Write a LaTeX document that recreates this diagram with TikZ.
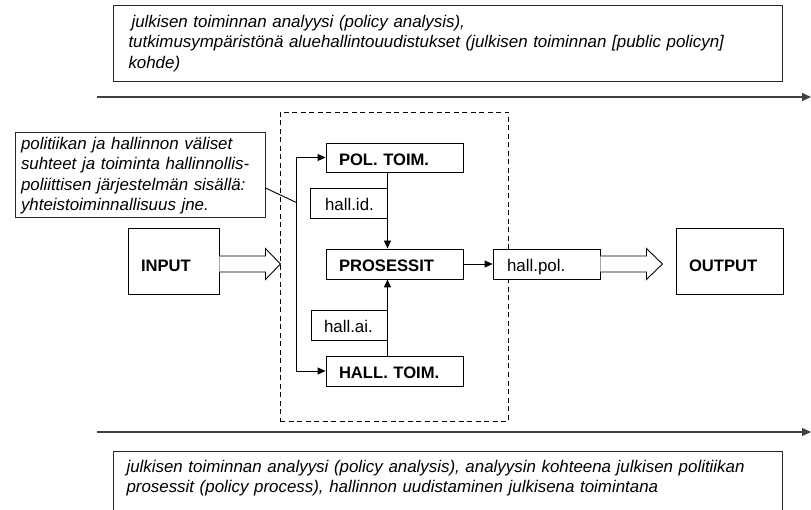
\documentclass[tikz,border=0pt]{standalone}
\usepackage{fontspec}
\setmainfont{Liberation Sans}
\usetikzlibrary{arrows.meta,calc}
\begin{document}
\begin{tikzpicture}[x=1pt,y=-1pt,
  every node/.style={font=\fontsize{16.9}{20.3}\selectfont, inner sep=0pt},
  box/.style={draw=black, line width=0.9pt, fill=white},
  boldlbl/.style={box, font=\fontsize{16.6}{20}\selectfont\bfseries, align=left, inner xsep=13pt, text height=16pt, text depth=0pt},
  plainlbl/.style={box, align=left, text height=16pt, text depth=0pt},
  note/.style={draw=black!85, line width=1pt, fill=white, align=left, font=\fontsize{16.9}{20.3}\selectfont\itshape},
  conn/.style={line width=0.9pt, -{Triangle[length=8pt,width=7pt]}},
  plainline/.style={line width=0.9pt},
  timeline/.style={draw=black!75, line width=1.3pt, -{Triangle[length=9pt,width=8pt]}},
  blockarrow/.style={draw=black, line width=0.9pt, fill=white, line join=miter},
  frame/.style={draw=black, line width=0.9pt, dash pattern=on 5pt off 3.5pt}
]
\useasboundingbox (0,0) rectangle (811,510);
\clip (0,0) rectangle (811,510);

% top note
\node[note, anchor=north west, text width=639pt, inner xsep=15pt, minimum height=76pt] (topnote) at (113,5)
  {\hspace{3pt}julkisen toiminnan analyysi (policy analysis),\\
   tutkimusympäristönä aluehallintouudistukset (julkisen toiminnan [public policyn]\\
   kohde)};

% timelines
\coordinate (tl1s) at (97,97);
\coordinate (tl1e) at (811,97);
\draw[timeline] (tl1s) -- (tl1e);
\coordinate (tl2s) at (97,432);
\coordinate (tl2e) at (811,432);
\draw[timeline] (tl2s) -- (tl2e);

% dashed frame
\node[frame, minimum width=228pt, minimum height=309pt] (frm) at (394,266.5) {};

% left note
\node[note, text width=238pt, inner xsep=6pt, minimum height=85pt] (leftnote) at (140,175.5)
  {politiikan ja hallinnon väliset\\
   suhteet ja toiminta hallinnollis-\\
   poliittisen järjestelmän sisällä:\\
   yhteistoiminnallisuus jne.};

% main boxes
\node[boldlbl, text width=111pt, minimum height=29pt] (pol) at (394.5,157.5) {POL. TOIM.};
\node[boldlbl, text width=111pt, minimum height=30pt] (pros) at (394.5,264) {PROSESSIT};
\node[boldlbl, text width=111pt, minimum height=30pt] (hall) at (394.5,371) {HALL. TOIM.};
\node[boldlbl, text width=65pt, minimum height=66pt, text height=22pt] (input) at (173.5,261) {INPUT};
\node[boldlbl, text width=81pt, minimum height=66pt, text height=22pt] (output) at (729.5,261) {OUTPUT};

\node[plainlbl, text width=47pt, inner xsep=15pt, minimum height=30pt] (hallid) at (348.5,203) {hall.id.};
\node[plainlbl, text width=50pt, inner xsep=13pt, minimum height=30pt] (hallai) at (349,325) {hall.ai.};
\node[plainlbl, text width=79pt, inner xsep=14pt, minimum height=30pt] (hallpol) at (546.5,264) {hall.pol.};

% bracket
\coordinate (brtop) at ($(pol.west)+(-29.5,0)$);
\coordinate (brbot) at ($(hall.west)+(-29.5,0)$);
\coordinate (brmid) at ($(brtop)!0.21!(brbot)$);
\draw[plainline] (brtop) -- (brbot);
\draw[conn] (brtop) -- (pol.west);
\draw[conn] (brbot) -- (hall.west);
\draw[plainline] ($(leftnote.east)+(0,12.5)$) -- (brmid);

% vertical connectors
\draw[conn] (pol.south -| hallid.east) -- (pros.north -| hallid.east);
\draw[conn] (hall.north -| hallai.east) -- (pros.south -| hallai.east);
\draw[conn] (pros.east) -- (hallpol.west);

% block arrows
\coordinate (a1) at (input.east |- pros.west);
\draw[blockarrow] ($(a1)+(0,-8)$) -- ++(46,0) -- ++(0,-7.5) -- ($(a1)+(61,0)$) -- ($(a1)+(46,15.5)$) -- ++(0,-7.5) -- ($(a1)+(0,8)$);
\coordinate (a2) at (hallpol.east);
\draw[blockarrow] ($(a2)+(0,-8)$) -- ++(46,0) -- ++(0,-7.5) -- ($(a2)+(62,0)$) -- ($(a2)+(46,15.5)$) -- ++(0,-7.5) -- ($(a2)+(0,8)$);

% bottom note
\node[note, anchor=north west, text width=643pt, inner xsep=13pt, inner ysep=8.5pt] (botnote) at (113,451)
  {julkisen toiminnan analyysi (policy analysis), analyysin kohteena julkisen politiikan\\
   prosessit (policy process), hallinnon uudistaminen julkisena toimintana\\
   \rule{0pt}{40pt}};
\end{tikzpicture}
\end{document}
